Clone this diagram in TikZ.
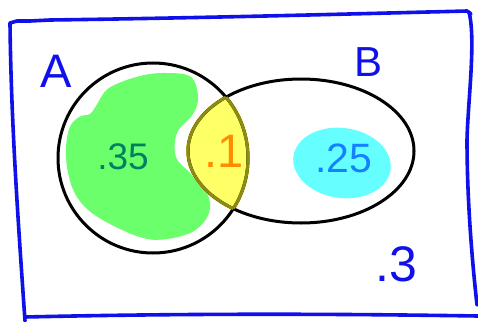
\documentclass[tikz,border=0pt]{standalone}
\usepackage{fontspec}
\setmainfont{Liberation Sans}
\begin{document}
\begin{tikzpicture}[x=1pt,y=-1pt,
  frame/.style={draw=framecol,line width=3.6pt,line cap=round,line join=round},
  setline/.style={draw=black,line width=3pt},
  lbl/.style={inner sep=0pt,anchor=center}]
\definecolor{framecol}{RGB}{16,16,235}
\definecolor{greenfill}{RGB}{108,255,108}
\definecolor{yellowfill}{RGB}{255,255,102}
\definecolor{olive}{RGB}{140,140,20}
\definecolor{cyanfill}{RGB}{102,255,255}
\definecolor{tealtext}{RGB}{0,128,96}
\definecolor{orangetext}{RGB}{255,140,0}
\definecolor{bluetext}{RGB}{20,130,255}
\useasboundingbox (0,0) rectangle (478,321);
\fill[white] (0,0) rectangle (478,321);
% frame
\draw[frame] (10,23) .. controls (11,120) and (18,220) .. (25,321);
\draw[frame] (10,23) -- (17,21) -- (30,21) -- (50,20) .. controls (200,18) and (350,14) .. (467,11) -- (471,14);
\draw[frame] (469,12) .. controls (476,40) and (468,100) .. (467,140) .. controls (467,200) and (472,260) .. (477,305);
\draw[frame] (25,317) .. controls (200,313) and (350,314) .. (478,316);
% green blob
\fill[greenfill] plot[smooth cycle,tension=0.6] coordinates {
 (96,106) (109,88) (140,76) (167,73) (191,77) (198,97) (193,114) (177,133)
 (176,157) (190,173) (207,193) (209,213) (194,231) (167,239) (143,238)
 (110,224) (86,208) (72,187) (66,157) (69,129) (79,117) (90,114)};
% cyan blob
\fill[cyanfill,rotate around={-8:(342,163)}] (342,163) ellipse [x radius=49,y radius=35];
% yellow lens
\begin{scope}
 \clip (153,158) circle [radius=97];
 \fill[yellowfill] (301,151) ellipse [x radius=115,y radius=74];
\end{scope}
% sets
\draw[setline] (153,158) circle [radius=95];
\draw[setline] (301,151) ellipse [x radius=113,y radius=72];
\begin{scope}
 \clip (153,158) circle [radius=95];
 \draw[olive,line width=3pt] (301,151) ellipse [x radius=113,y radius=72];
\end{scope}
\begin{scope}
 \clip (301,151) ellipse [x radius=113,y radius=72];
 \draw[olive,line width=3pt] (153,158) circle [radius=95];
\end{scope}
% labels
\node[lbl,text=framecol,font=\fontsize{47}{47}\selectfont] (la) at (56,71) {A};
\node[lbl,text=framecol,font=\fontsize{42}{42}\selectfont] (lb) at (368,62) {B};
\node[lbl,text=tealtext,font=\fontsize{37}{37}\selectfont] (pa) at (123,157) {.35};
\node[lbl,text=orangetext,font=\fontsize{47}{47}\selectfont] (pab) at (224,151) {.1};
\node[lbl,text=bluetext,font=\fontsize{41}{41}\selectfont] (pb) at (344,158) {.25};
\node[lbl,text=framecol,font=\fontsize{50}{50}\selectfont] (pn) at (396,264) {.3};
\end{tikzpicture}
\end{document}
